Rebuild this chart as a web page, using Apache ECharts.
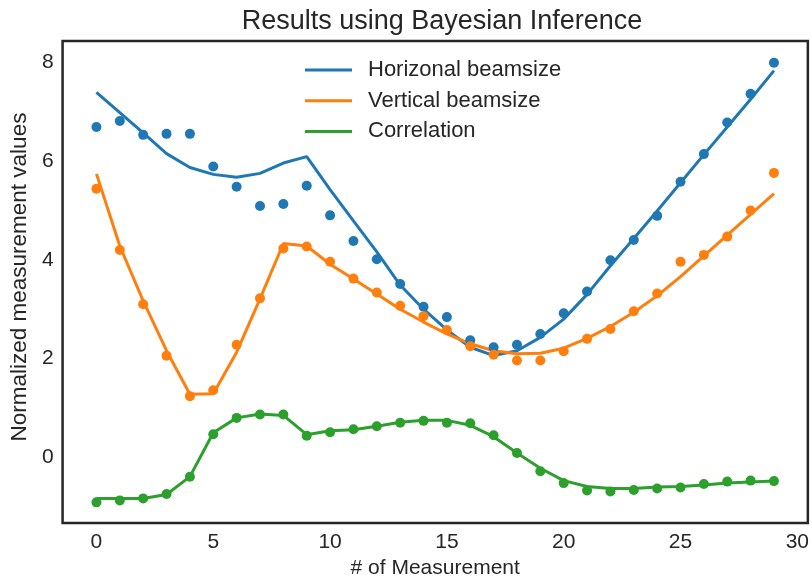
<!DOCTYPE html>
<html>
<head>
<meta charset="utf-8">
<script src="https://cdn.jsdelivr.net/npm/echarts@6/dist/echarts.min.js"></script>
<style>
  html, body { margin: 0; padding: 0; background: #fff; }
  #chart { width: 812px; height: 584px; }
</style>
</head>
<body>
<div id="chart"></div>
<script>
// Measurement index
const measurement = [0, 1, 2, 3, 4, 5, 6, 7, 8, 9, 10, 11, 12, 13, 14, 15, 16, 17, 18, 19, 20, 21, 22, 23, 24, 25, 26, 27, 28, 29];

// Horizontal beamsize: measured points and inferred curve
const horizMeasured = [6.69, 6.81, 6.53, 6.55, 6.55, 5.89, 5.48, 5.09, 5.13, 5.50, 4.90, 4.38, 4.01, 3.51, 3.05, 2.84, 2.37, 2.23, 2.28, 2.50, 2.92, 3.36, 3.99, 4.40, 4.89, 5.58, 6.14, 6.78, 7.36, 7.99];
const horizFit = [7.39, 6.98, 6.57, 6.15, 5.87, 5.73, 5.67, 5.75, 5.96, 6.09, 5.42, 4.79, 4.16, 3.49, 3.00, 2.58, 2.23, 2.06, 2.16, 2.43, 2.80, 3.30, 3.88, 4.43, 4.99, 5.56, 6.13, 6.69, 7.25, 7.83];

// Vertical beamsize
const vertMeasured = [5.44, 4.20, 3.10, 2.06, 1.24, 1.36, 2.28, 3.22, 4.23, 4.27, 3.96, 3.62, 3.34, 3.07, 2.86, 2.58, 2.25, 2.08, 1.96, 1.96, 2.15, 2.40, 2.60, 2.96, 3.32, 3.96, 4.10, 4.47, 5.00, 5.76];
const vertFit = [5.74, 4.28, 3.17, 2.16, 1.28, 1.29, 2.13, 3.21, 4.33, 4.28, 3.91, 3.61, 3.31, 3.00, 2.74, 2.50, 2.30, 2.16, 2.10, 2.11, 2.21, 2.41, 2.65, 2.94, 3.27, 3.66, 4.08, 4.50, 4.92, 5.34];

// Correlation
const corrMeasured = [-0.91, -0.87, -0.83, -0.74, -0.39, 0.47, 0.80, 0.87, 0.87, 0.44, 0.51, 0.57, 0.63, 0.70, 0.74, 0.70, 0.69, 0.45, 0.09, -0.28, -0.52, -0.67, -0.69, -0.66, -0.63, -0.61, -0.54, -0.49, -0.47, -0.48];
const corrFit = [-0.83, -0.83, -0.83, -0.75, -0.39, 0.50, 0.80, 0.88, 0.85, 0.46, 0.54, 0.56, 0.63, 0.71, 0.75, 0.75, 0.65, 0.42, 0.09, -0.22, -0.47, -0.59, -0.63, -0.63, -0.60, -0.59, -0.56, -0.52, -0.50, -0.48];

// Tick labels
const xTicks = [0, 5, 10, 15, 20, 25, 30];
const yTicks = [0, 2, 4, 6, 8];

const seriesNames = ['Horizonal beamsize', 'Vertical beamsize', 'Correlation'];
const colors = ['#1f77b4', '#ff7f0e', '#2ca02c'];

const pairs = (ys) => measurement.map((x, i) => [x, ys[i]]);

const textColor = '#262626';
const font = 'Liberation Sans, Arial, sans-serif';

const fits = [horizFit, vertFit, corrFit];
const measured = [horizMeasured, vertMeasured, corrMeasured];

const series = [];
fits.forEach((ys, k) => {
  series.push({
    name: seriesNames[k],
    type: 'line',
    data: pairs(ys),
    showSymbol: false,
    symbol: 'none',
    lineStyle: { color: colors[k], width: 3 },
    itemStyle: { color: colors[k] },
    z: 2
  });
});
measured.forEach((ys, k) => {
  series.push({
    name: seriesNames[k] + ' (data)',
    type: 'scatter',
    data: pairs(ys),
    symbolSize: 10,
    itemStyle: { color: colors[k], opacity: 1 },
    z: 3
  });
});

const chart = echarts.init(document.getElementById('chart'), null, { renderer: 'canvas' });
chart.setOption({
  animation: false,
  backgroundColor: '#fff',
  textStyle: { fontFamily: font, color: textColor },
  title: {
    text: 'Results using Bayesian Inference',
    left: 437,
    textAlign: 'center',
    top: 3,
    textStyle: { fontFamily: font, fontSize: 27, fontWeight: 'normal', color: textColor }
  },
  legend: {
    data: seriesNames.map((n, k) => ({ name: n, icon: 'rect', itemStyle: { color: colors[k] } })),
    orient: 'vertical',
    left: 300,
    top: 54,
    itemWidth: 47,
    itemHeight: 3,
    itemGap: 8.7,
    textStyle: { fontFamily: font, fontSize: 22, color: textColor, lineHeight: 22, padding: [0, 0, 0, 11] }
  },
  grid: {
    left: 62,
    right: 4,
    top: 41,
    bottom: 59,
    show: true,
    borderColor: '#262626',
    borderWidth: 2.5,
    containLabel: false
  },
  xAxis: {
    type: 'value',
    min: -1.45,
    max: 30.45,
    name: '# of Measurement',
    nameLocation: 'middle',
    nameGap: 34,
    nameTextStyle: { fontFamily: font, fontSize: 21, color: textColor },
    axisLine: { show: false },
    axisTick: { show: false },
    splitLine: { show: false },
    axisLabel: {
      customValues: xTicks,
      fontFamily: font,
      fontSize: 21,
      color: textColor,
      margin: 9
    }
  },
  yAxis: {
    type: 'value',
    min: -1.33,
    max: 8.43,
    name: 'Normalized measurement values',
    nameLocation: 'middle',
    nameGap: 29,
    nameTextStyle: { fontFamily: font, fontSize: 22.5, color: textColor, padding: [0, 0, 0, 10] },
    axisLine: { show: false },
    axisTick: { show: false },
    splitLine: { show: false },
    axisLabel: {
      customValues: yTicks,
      fontFamily: font,
      fontSize: 21,
      color: textColor,
      margin: 9
    }
  },
  series: series
});
</script>
</body>
</html>
